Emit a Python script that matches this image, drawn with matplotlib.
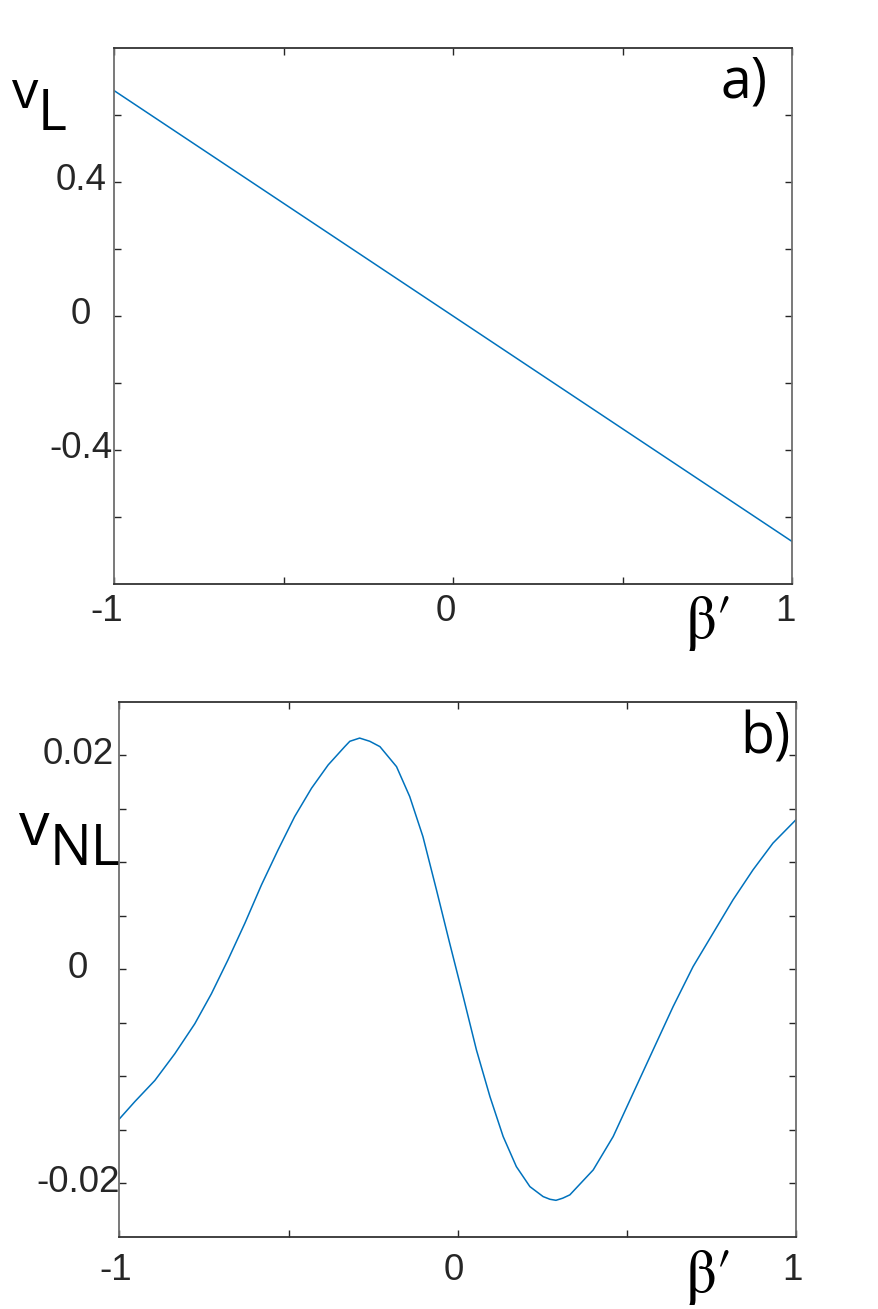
import numpy as np
import matplotlib
matplotlib.use('Agg')
import matplotlib.pyplot as plt
import matplotlib.transforms as mtransforms

# panel a) : linear velocity vs beta'
beta_a = [-1.0, 1.0]
v_L = [0.673, -0.673]

# panel b) : nonlinear velocity vs beta' (read off the curve)
beta_b = [-1.0, -0.954, -0.895, -0.836, -0.777, -0.728, -0.679, -0.629,
          -0.580, -0.531, -0.482, -0.432, -0.383, -0.334, -0.319, -0.290,
          -0.260, -0.230, -0.181, -0.142, -0.103, -0.063, -0.024, 0.016,
          0.055, 0.095, 0.134, 0.173, 0.213, 0.252, 0.272, 0.290, 0.310,
          0.331, 0.400, 0.459, 0.518, 0.577, 0.636, 0.695, 0.754, 0.813,
          0.872, 0.931, 1.0]
v_NL = [-0.0140, -0.01237, -0.0104, -0.0079, -0.0051, -0.0023,
        0.00087, 0.0043, 0.00788, 0.01115, 0.01426, 0.01692, 0.01909,
        0.0208, 0.0213, 0.0216, 0.0213, 0.0208, 0.01893, 0.01613, 0.01239,
        0.00741, 0.00243, -0.00256, -0.00754, -0.01191, -0.01564, -0.01845,
        -0.02032, -0.02125, -0.0215, -0.0216, -0.0214, -0.02109, -0.01876,
        -0.01564, -0.01159, -0.00754, -0.0035, 0.00024, 0.00336, 0.00648,
        0.00928, 0.01178, 0.0140]

xticks = [-1, 0, 1]
xtick_labels = ['-1', '0', '1']
xminor = [-0.5, 0.5]
a_yticks = [-0.4, 0, 0.4]
a_ylabels = ['-0.4', '0', '0.4']
a_yminor = [-0.6, -0.2, 0.2, 0.6]
b_yticks = [-0.02, 0, 0.02]
b_ylabels = ['-0.02', '0', '0.02']
b_yminor = [-0.015, -0.01, -0.005, 0.005, 0.01, 0.015]

W, H, DPI = 879, 1309, 100
LINE = '#0072BD'
TXT = '#262626'
SANS = ['Liberation Sans', 'DejaVu Sans']
LABF = ['Open Sans', 'DejaVu Sans']
SERIF = ['STIXGeneral', 'Liberation Serif', 'DejaVu Serif']

fig = plt.figure(figsize=(W / DPI, H / DPI), dpi=DPI)


def px(x, y):
    # figure pixel (from top-left) -> figure fraction
    return x / W, 1 - y / H


def shift(dx, dy):
    return mtransforms.ScaledTranslation(dx / DPI, -dy / DPI, fig.dpi_scale_trans)


def style(ax, ylim, yt, ylab, ym, ypad, xpad, ydy, xdx):
    ax.set_xlim(-1, 1)
    ax.set_ylim(*ylim)
    ax.set_xticks(xticks, labels=xtick_labels)
    ax.set_xticks(xminor, minor=True)
    ax.set_yticks(yt, labels=ylab)
    ax.set_yticks(ym, minor=True)
    ax.tick_params(which='both', direction='in', top=True, right=True,
                   length=5, width=1, color=TXT, labelsize=26.5,
                   labelcolor=TXT)
    ax.tick_params(axis='y', pad=ypad)
    ax.tick_params(axis='x', pad=xpad)
    for s in ['top', 'bottom']:
        ax.spines[s].set_color('#333333')
        ax.spines[s].set_linewidth(1.3)
    for s in ['left', 'right']:
        ax.spines[s].set_color('#6e6e6e')
        ax.spines[s].set_linewidth(1.3)
    for lab in ax.get_yticklabels():
        lab.set_family(SANS)
        lab.set_ha('center')
        lab.set_transform(lab.get_transform() + shift(0, ydy))
    for lab in ax.get_xticklabels():
        lab.set_family(SANS)
        lab.set_transform(lab.get_transform() + shift(xdx, 0))


#!panel a)
ax1 = fig.add_axes([114 / W, 1 - 584 / H, 678 / W, 536 / H])
ax1.plot(beta_a, v_L, color=LINE, lw=1.1)
style(ax1, (-0.8, 0.8), a_yticks, a_ylabels, a_yminor, 23.8, 7, -5, -7)

#!panel b)
ax2 = fig.add_axes([119.3 / W, 1 - 1236.7 / H, 677 / W, 535 / H])
ax2.plot(beta_b, v_NL, color=LINE, lw=1.1)
style(ax2, (-0.025, 0.025), b_yticks, b_ylabels, b_yminor, 29.7, 12, -5, -4)

#!axis labels
fig.text(*px(12, 108), 'v', fontsize=38, family=LABF, color='k')
fig.text(*px(38, 130), 'L', fontsize=40, family=LABF, color='k')
fig.text(*px(19, 845), 'v', fontsize=44, family=LABF, color='k')
fig.text(*px(50, 865), 'NL', fontsize=40, family=LABF, color='k')
fig.text(*px(686, 638), '\u03b2\u2032', fontsize=44, family=SERIF, color='k')
fig.text(*px(686, 1292), '\u03b2\u2032', fontsize=44, family=SERIF, color='k')

#!panel tags
fig.text(*px(721, 97), 'a)', fontsize=40, family=LABF, color='k')
fig.text(*px(740, 753), 'b)', fontsize=40, family=LABF, color='k')

fig.savefig('out.png', dpi=DPI)
